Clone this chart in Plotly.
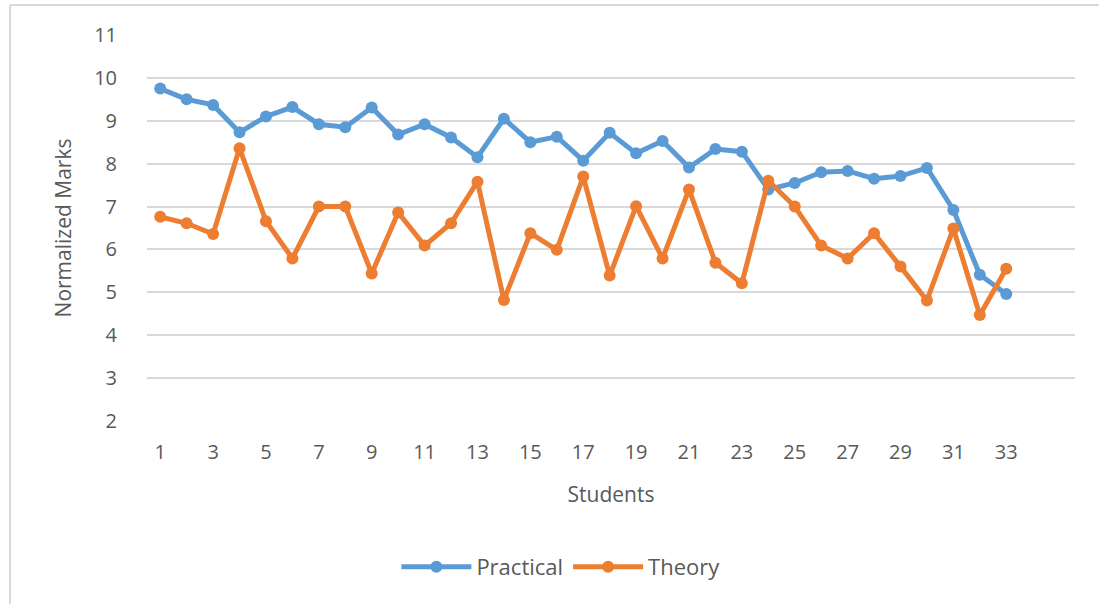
import plotly.graph_objects as go

students = list(range(1, 34))
practical = [9.75, 9.50, 9.37, 8.73, 9.10, 9.32, 8.92, 8.85, 9.31, 8.68,
             8.92, 8.61, 8.15, 9.05, 8.50, 8.63, 8.07, 8.72, 8.24, 8.53,
             7.91, 8.34, 8.28, 7.40, 7.55, 7.80, 7.83, 7.65, 7.71, 7.90,
             6.92, 5.41, 4.96]
theory = [6.76, 6.61, 6.36, 8.36, 6.66, 5.79, 7.00, 7.00, 5.44, 6.86,
          6.09, 6.61, 7.58, 4.82, 6.38, 5.99, 7.70, 5.39, 7.01, 5.79,
          7.40, 5.69, 5.21, 7.60, 7.00, 6.09, 5.79, 6.38, 5.60, 4.81,
          6.49, 4.47, 5.55]
x_ticks = list(range(1, 34, 2))
y_ticks = list(range(2, 12))

BLUE = "#5B9BD5"
ORANGE = "#ED7D31"
GRID = "#D9D9D9"
TEXT = "#595959"
FONT = "Open Sans"

fig = go.Figure()
fig.add_trace(go.Scatter(
    x=students, y=practical, name="Practical", mode="lines+markers",
    line=dict(color=BLUE, width=5), marker=dict(color=BLUE, size=12),
))
fig.add_trace(go.Scatter(
    x=students, y=theory, name="Theory", mode="lines+markers",
    line=dict(color=ORANGE, width=5), marker=dict(color=ORANGE, size=12),
))

fig.update_layout(
    width=1099, height=604,
    margin=dict(l=147, r=24, t=35, b=183),
    paper_bgcolor="white", plot_bgcolor="white",
    font=dict(family=FONT, size=20, color=TEXT),
    showlegend=True,
    legend=dict(orientation="h", x=0.446, xanchor="center", y=-0.378,
                yanchor="middle", yref="paper",
                font=dict(family=FONT, size=22, color=TEXT),
                itemwidth=70),
    xaxis=dict(
        range=[0.5, 35.6], tickmode="array", tickvals=x_ticks,
        ticktext=[str(v) for v in x_ticks], showgrid=False, zeroline=False,
        showline=False, ticks="", ticklabelstandoff=17,
        tickfont=dict(family=FONT, size=20, color=TEXT),
        title=dict(text="Students", standoff=23,
                   font=dict(family=FONT, size=21, color=TEXT)),
    ),
    yaxis=dict(
        range=[2, 11], tickmode="array", tickvals=y_ticks,
        showgrid=True, gridcolor=GRID, gridwidth=1.5, zeroline=False,
        showline=False, ticks="", ticklabelstandoff=29,
        tickfont=dict(family=FONT, size=20, color=TEXT),
        title=dict(text="Normalized Marks", standoff=16,
                   font=dict(family=FONT, size=21, color=TEXT)),
    ),
    shapes=[
        dict(type="line", xref="paper", yref="paper", x0=-137 / 928, x1=1.03,
             y0=1 + 30 / 386, y1=1 + 30 / 386, line=dict(color=GRID, width=2)),
        dict(type="line", xref="paper", yref="paper", x0=-137 / 928, x1=-137 / 928,
             y0=1 + 30 / 386, y1=-0.5, line=dict(color=GRID, width=2)),
    ],
)

fig.write_html("out.html")
